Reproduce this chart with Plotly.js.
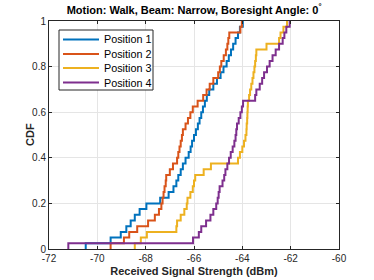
<!DOCTYPE html>
<html>
<head>
<meta charset="utf-8">
<script src="https://cdn.plot.ly/plotly-3.0.1.min.js"></script>
<style>html,body{margin:0;padding:0;background:#fff;}#chart{width:374px;height:280px;}</style>
</head>
<body>
<div id="chart"></div>
<script>
// Sorted RSS samples (dBm)
const seriesNames = ["Position 1", "Position 2", "Position 3", "Position 4"];
const position1 = [-70.48,-69.45,-69.03,-68.8,-68.62,-68.45,-68.25,-67.97,-67.4,-67.05,-66.85,-66.73,-66.65,-66.55,-66.46,-66.35,-66.22,-66.14,-66.08,-66.0,-65.92,-65.84,-65.77,-65.7,-65.63,-65.55,-65.47,-65.37,-65.2,-65.05,-64.9,-64.78,-64.65,-64.56,-64.47,-64.38,-64.28,-64.18,-64.1,-63.98];
const position2 = [-69.45,-68.9,-68.68,-68.35,-67.9,-67.62,-67.45,-67.35,-67.3,-67.26,-67.22,-67.17,-67.15,-67.0,-66.87,-66.7,-66.65,-66.6,-66.55,-66.5,-66.46,-66.35,-66.25,-66.15,-66.05,-65.85,-65.62,-65.48,-65.35,-65.2,-65.0,-64.93,-64.87,-64.77,-64.68,-64.62,-64.58,-64.54,-64.08,-64.02];
const position3 = [-68.45,-68.2,-67.95,-66.73,-66.7,-66.55,-66.4,-66.3,-66.27,-66.15,-66.05,-66.0,-65.95,-65.6,-65.3,-64.18,-64.1,-64.0,-63.93,-63.87,-63.83,-63.82,-63.8,-63.79,-63.78,-63.77,-63.72,-63.68,-63.63,-63.58,-63.54,-63.5,-63.47,-63.44,-63.42,-63.0,-62.48,-62.42,-62.3,-62.15];
const position4 = [-71.2,-66.04,-65.8,-65.7,-65.5,-65.32,-65.2,-65.08,-65.02,-64.98,-64.94,-64.82,-64.75,-64.7,-64.62,-64.55,-64.48,-64.4,-64.33,-64.28,-64.25,-64.22,-64.15,-64.08,-64.02,-63.97,-63.47,-63.42,-63.28,-63.18,-63.1,-62.98,-62.87,-62.75,-62.62,-62.48,-62.33,-62.26,-62.18,-62.04];
const xTicks = [-72,-70,-68,-66,-64,-62,-60];
const yTicks = [0,0.2,0.4,0.6,0.8,1];
const yTickLabels = ["0","0.2","0.4","0.6","0.8","1"];
const colors = ["#0072BD","#D95319","#EDB120","#7E2F8E"];

function ecdf(vals){
  const s = vals.slice().sort((a,b)=>a-b);
  const n = s.length;
  const x = [s[0]], y = [0];
  for(let i=0;i<n;i++){ x.push(s[i]); y.push((i+1)/n); }
  return {x, y};
}

const allSeries = [position1, position2, position3, position4];
const traces = allSeries.map((vals, i) => {
  const c = ecdf(vals);
  return {x: c.x, y: c.y, type: 'scatter', mode: 'lines', name: seriesNames[i],
    line: {color: colors[i], width: 2, shape: 'hv'}, showlegend: false};
});

const FONT = 'Liberation Sans, Arial, sans-serif';
const axisCommon = {
  showline: true, mirror: 'ticks', linecolor: '#262626', linewidth: 1,
  ticks: 'inside', ticklen: 3, tickcolor: '#262626',
  showgrid: true, gridcolor: '#e5e5e5', gridwidth: 1, zeroline: false,
  tickfont: {family: FONT, size: 10, color: '#262626'}
};

// plot area in pixels: left 49, width 290, top 21, height 228
const L = 49, W = 290, T = 21, H = 228;
const px = v => (v - L) / W;
const py = v => (T + H - v) / H;

// manual legend box (compact row spacing like MATLAB)
const legBox = {x0: 59, x1: 153, y0: 30, y1: 90};
const legRows = [39.5, 54, 68, 82.5];
const shapes = [{type: 'rect', xref: 'paper', yref: 'paper',
  x0: px(legBox.x0), x1: px(legBox.x1), y0: py(legBox.y1), y1: py(legBox.y0),
  fillcolor: '#fff', line: {color: '#262626', width: 1}, layer: 'above'}];
const annotations = [];
seriesNames.forEach((name, i) => {
  shapes.push({type: 'line', xref: 'paper', yref: 'paper',
    x0: px(63), x1: px(99), y0: py(legRows[i]), y1: py(legRows[i]),
    line: {color: colors[i], width: 2}, layer: 'above'});
  annotations.push({xref: 'paper', yref: 'paper', x: px(102), y: py(legRows[i]),
    xanchor: 'left', yanchor: 'middle', showarrow: false, text: name,
    font: {family: FONT, size: 10.8, color: '#000'}});
});
// y axis title placed like MATLAB
annotations.push({xref: 'paper', yref: 'paper', x: px(30), y: 0.5, xanchor: 'center', yanchor: 'middle',
  textangle: -90, showarrow: false, text: '<b>CDF</b>', font: {family: FONT, size: 11, color: '#262626'}});

const layout = {
  width: 374, height: 280,
  margin: {l: L, r: 374 - L - W, t: T, b: 280 - T - H},
  paper_bgcolor: '#fff', plot_bgcolor: '#fff',
  showlegend: false,
  title: {text: '<b>Motion: Walk, Beam: Narrow, Boresight Angle: 0<sup>°</sup></b>',
    font: {family: FONT, size: 11, color: '#000'},
    x: 0.519, xanchor: 'center', y: 0.965, yanchor: 'middle'},
  xaxis: Object.assign({}, axisCommon, {range: [-72, -60], tickvals: xTicks, ticktext: xTicks.map(String),
    title: {text: '<b>Received Signal Strength (dBm)</b>', standoff: 4,
      font: {family: FONT, size: 11, color: '#262626'}}}),
  yaxis: Object.assign({}, axisCommon, {range: [0, 1], tickvals: yTicks, ticktext: yTickLabels}),
  shapes: shapes,
  annotations: annotations
};

Plotly.newPlot('chart', traces, layout, {displayModeBar: false, staticPlot: true});
</script>
</body>
</html>
